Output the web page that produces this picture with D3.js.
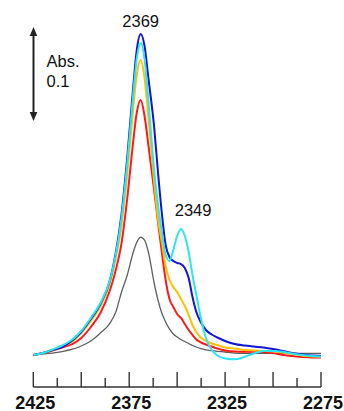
<!DOCTYPE html>
<html>
<head>
<meta charset="utf-8">
<script src="https://cdn.jsdelivr.net/npm/d3@7"></script>
<style>
  html, body { margin: 0; padding: 0; background: #ffffff; }
  svg { display: block; }
  text { font-family: "Liberation Sans", Arial, sans-serif; fill: #111; }
</style>
</head>
<body>
<svg id="chart" width="344" height="411"></svg>
<script>
// Wavenumbers (cm-1)
const wavenumbers = [2425, 2420, 2415, 2410, 2405, 2400, 2395, 2390, 2385, 2382, 2379, 2376, 2373, 2371, 2369,
  2367, 2365, 2362, 2360, 2358, 2356, 2354, 2352, 2350, 2348, 2346, 2344, 2342, 2340, 2338, 2335, 2332, 2329,
  2325, 2320, 2315, 2310, 2305, 2300, 2295, 2290, 2285, 2280, 2275];

// Absorbance series
const grayValues = [0, 0.0011, 0.0021, 0.0037, 0.0059, 0.0096, 0.0149, 0.0234, 0.0340, 0.0457, 0.0670, 0.0851, 0.1085, 0.1202, 0.1255,
  0.1223, 0.1096, 0.0766, 0.0585, 0.0447, 0.0351, 0.0277, 0.0223, 0.0191, 0.0165, 0.0144, 0.0122, 0.0101, 0.0085, 0.0071, 0.0055, 0.0046, 0.0039,
  0.0032, 0.0021, 0.0018, 0.0018, 0.0018, 0.0018, 0.0018, 0.0018, 0.0018, 0.0016, 0.0016];
const redValues = [0, 0.0021, 0.0048, 0.0080, 0.0112, 0.0181, 0.0298, 0.0447, 0.0691, 0.0904, 0.1191, 0.1670, 0.2255, 0.2585, 0.2713,
  0.2543, 0.2234, 0.1755, 0.1415, 0.1096, 0.0798, 0.0596, 0.0511, 0.0436, 0.0394, 0.0330, 0.0266, 0.0213, 0.0165, 0.0138, 0.0112, 0.0090, 0.0069,
  0.0048, 0.0037, 0.0035, 0.0035, 0.0032, 0.0021, 0, -0.0011, -0.0021, -0.0027, -0.0027];
const yellowValues = [0, 0.0021, 0.0053, 0.0090, 0.0138, 0.0234, 0.0362, 0.0521, 0.0766, 0.1032, 0.1383, 0.1936, 0.2606, 0.2989, 0.3138,
  0.2947, 0.2532, 0.1840, 0.1447, 0.1202, 0.0947, 0.0798, 0.0723, 0.0670, 0.0596, 0.0521, 0.0426, 0.0319, 0.0245, 0.0191, 0.0149, 0.0122, 0.0106,
  0.0080, 0.0069, 0.0053, 0.0048, 0.0043, 0.0037, 0.0027, 0.0011, -0.0005, -0.0016, -0.0016];
const blueValues = [0, 0.0021, 0.0053, 0.0085, 0.0149, 0.0245, 0.0383, 0.0543, 0.0798, 0.1085, 0.1500, 0.2106, 0.2830, 0.3255, 0.3415,
  0.3287, 0.2947, 0.2426, 0.1947, 0.1511, 0.1170, 0.1043, 0.1000, 0.0979, 0.0968, 0.0926, 0.0819, 0.0617, 0.0457, 0.0362, 0.0266, 0.0218, 0.0186,
  0.0149, 0.0117, 0.0101, 0.0090, 0.0080, 0.0064, 0.0043, 0.0021, 0.0005, -0.0005, -0.0011];
const cyanValues = [0, 0.0021, 0.0059, 0.0101, 0.0160, 0.0255, 0.0394, 0.0553, 0.0798, 0.1064, 0.1457, 0.2043, 0.2755, 0.3160, 0.3319,
  0.3149, 0.2702, 0.1968, 0.1596, 0.1309, 0.1064, 0.1000, 0.1117, 0.1266, 0.1340, 0.1266, 0.1096, 0.0851, 0.0638, 0.0426, 0.0181, 0.0053, -0.0005,
  -0.0037, -0.0046, -0.0021, 0.0016, 0.0043, 0.0043, 0.0035, 0.0016, 0, -0.0011, -0.0016];

const seriesNames = ["gray", "red", "yellow", "blue", "cyan"];
const seriesColors = ["#5f5f5f", "#ff1a1a", "#ffc000", "#1414d2", "#2ae6f2"];
const seriesWidths = [1.3, 2, 2, 2, 2];
const seriesValues = [grayValues, redValues, yellowValues, blueValues, cyanValues];

const tickValues = d3.range(2425, 2274, -12.5);
const tickLabels = [2425, 2375, 2325, 2275];
const peakLabels = [{ wn: 2369, text: "2369" }, { wn: 2349, text: "2349" }];
const scaleBarAbs = 0.1;

const svg = d3.select("#chart");
const x = d3.scaleLinear().domain([2425, 2275]).range([33.3, 321]);
const y = d3.scaleLinear().domain([0, 0.1]).range([355, 261]);

const line = d3.line()
  .x((d, i) => x(wavenumbers[i]))
  .y(d => y(d))
  .curve(d3.curveMonotoneX);

seriesValues.forEach((vals, k) => {
  svg.append("path")
    .datum(vals)
    .attr("fill", "none")
    .attr("stroke", seriesColors[k])
    .attr("stroke-width", seriesWidths[k])
    .attr("stroke-linejoin", "round")
    .attr("d", line);
});

// Bottom axis
const axisY = 387;
const axisG = svg.append("g");
axisG.append("line")
  .attr("x1", x(2425)).attr("x2", x(2275))
  .attr("y1", axisY).attr("y2", axisY)
  .attr("stroke", "#333").attr("stroke-width", 1.6);
tickValues.forEach((t, i) => {
  const major = i % 2 === 0;
  axisG.append("line")
    .attr("x1", x(t)).attr("x2", x(t))
    .attr("y1", axisY).attr("y2", major ? axisY - 15 : axisY - 9)
    .attr("stroke", "#333").attr("stroke-width", 1.4);
});
tickLabels.forEach(t => {
  axisG.append("text")
    .attr("x", x(t) + 2).attr("y", 408.5)
    .attr("text-anchor", "middle")
    .attr("font-size", 18).attr("font-weight", "bold")
    .text(t);
});

// Peak labels
svg.append("text").attr("x", x(peakLabels[0].wn)).attr("y", 27.3)
  .attr("text-anchor", "middle").attr("font-size", 16.5).text(peakLabels[0].text);
svg.append("text").attr("x", x(peakLabels[1].wn) + 14).attr("y", 215.7)
  .attr("text-anchor", "middle").attr("font-size", 16.5).text(peakLabels[1].text);

// Scale bar arrow (0.1 Abs)
const arrowX = 33.5;
const arrowTop = 27;
const arrowBottom = arrowTop + (y(0) - y(scaleBarAbs));
svg.append("line")
  .attr("x1", arrowX).attr("x2", arrowX)
  .attr("y1", arrowTop + 6).attr("y2", arrowBottom - 6)
  .attr("stroke", "#222").attr("stroke-width", 2);
svg.append("path")
  .attr("d", `M${arrowX},${arrowTop} L${arrowX - 3.8},${arrowTop + 9} L${arrowX + 3.8},${arrowTop + 9} Z`)
  .attr("fill", "#222");
svg.append("path")
  .attr("d", `M${arrowX},${arrowBottom} L${arrowX - 3.8},${arrowBottom - 9} L${arrowX + 3.8},${arrowBottom - 9} Z`)
  .attr("fill", "#222");
svg.append("text").attr("x", 46.5).attr("y", 66.7).attr("font-size", 16.5).text("Abs.");
svg.append("text").attr("x", 46.5).attr("y", 87).attr("font-size", 16.5).text(scaleBarAbs.toString());
</script>
</body>
</html>
